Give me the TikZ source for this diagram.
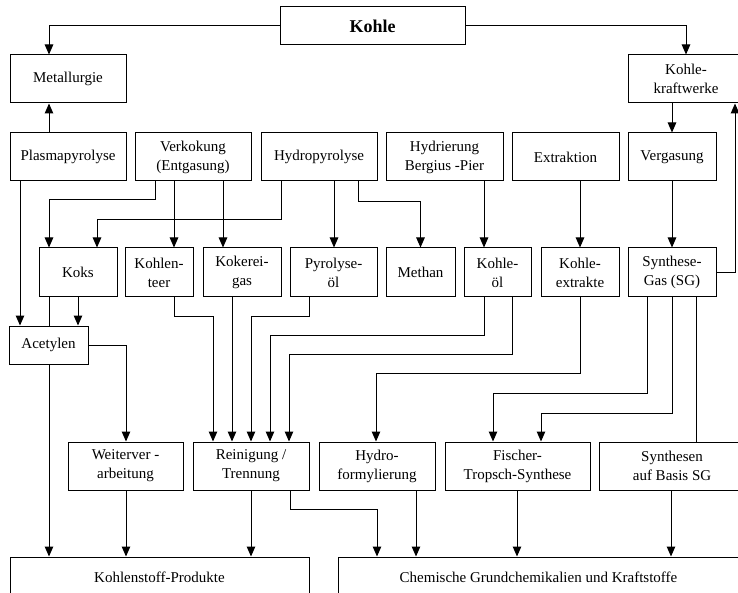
\documentclass[tikz,border=0pt]{standalone}
\usepackage{fontspec}
\setmainfont{Liberation Serif}
\usetikzlibrary{arrows.meta}
\begin{document}
\begin{tikzpicture}[x=1pt,y=-1pt,
  box/.style={draw,line width=1pt,inner sep=1pt,align=center,font=\fontsize{15}{19}\selectfont},
  line/.style={line width=1pt},
  arr/.style={line width=1pt,-{Triangle[length=10pt,width=8.5pt]}}]
\useasboundingbox (0,0) rectangle (738,593);
\clip (0,0) rectangle (738,593);
% row 0
\node[box,minimum width=185,minimum height=38,font=\fontsize{18}{20}\selectfont\bfseries] (kohle) at (372.5,26) {Kohle};
\node[box,minimum width=116,minimum height=48] (metall) at (68,79) {Metallurgie};
\node[box,minimum width=116,minimum height=48] (kkw) at (686,79) {Kohle-\\kraftwerke};
% row 1
\node[box,minimum width=116,minimum height=48] (plasma) at (68,157) {Plasmapyrolyse};
\node[box,minimum width=116,minimum height=48] (verk) at (193,157) {Verkokung\\(Entgasung)};
\node[box,minimum width=116,minimum height=48] (hpyr) at (319,157) {Hydropyrolyse};
\node[box,minimum width=117,minimum height=48] (hydr) at (444.5,157) {Hydrierung\\Bergius -Pier};
\node[box,minimum width=107,minimum height=48] (extr) at (565.5,157) {Extraktion};
\node[box,minimum width=88,minimum height=48] (verg) at (672,157) {Vergasung};
% row 2
\node[box,minimum width=78,minimum height=49] (koks) at (78,272.5) {Koks};
\node[box,minimum width=68,minimum height=49] (teer) at (159,272.5) {Kohlen-\\teer};
\node[box,minimum width=78,minimum height=49] (kgas) at (242,272.5) {Kokerei-\\gas};
\node[box,minimum width=87,minimum height=49] (poel) at (333.5,272.5) {Pyrolyse-\\öl};
\node[box,minimum width=69,minimum height=49] (methan) at (420.5,272.5) {Methan};
\node[box,minimum width=67,minimum height=49] (koel) at (497.5,272.5) {Kohle-\\öl};
\node[box,minimum width=78,minimum height=49] (kext) at (580,272.5) {Kohle-\\extrakte};
\node[box,minimum width=88,minimum height=49] (sg) at (672,272.5) {Synthese-\\Gas (SG)};
\node[box,minimum width=79,minimum height=38] (acet) at (48.5,345) {Acetylen};
% row 3
\node[box,minimum width=115,minimum height=48] (weiter) at (125.5,466) {Weiterver -\\arbeitung};
\node[box,minimum width=116,minimum height=48] (rein) at (251,466) {Reinigung /\\Trennung};
\node[box,minimum width=116,minimum height=48] (hydro) at (377,466) {Hydro-\\formylierung};
\node[box,minimum width=145,minimum height=48] (ft) at (517.5,466) {Fischer-\\Tropsch-Synthese};
\node[box,minimum width=146,minimum height=48] (synb) at (672,466) {Synthesen\\auf Basis SG};
% bottom
\node[box,minimum width=299,minimum height=40] (kprod) at (159.5,577) {Kohlenstoff-Produkte};
\node[box,minimum width=401,minimum height=40] (chem) at (538.5,577) {Chemische Grundchemikalien und Kraftstoffe};
% connectors
\draw[arr] (kohle.west) -| ([xshift=-19pt]metall.north);
\draw[arr] (kohle.east) -| (kkw.north);
\draw[arr] ([xshift=-19pt]plasma.north) -- ([xshift=-19pt]metall.south);
\draw[arr] ([xshift=-14pt]kkw.south) -- (verg.north);
\draw[arr] (sg.east) -| ([xshift=49pt]kkw.south);
\draw[arr] ([xshift=-48pt]plasma.south) -- ([xshift=-28.5pt]acet.north);
\draw[arr] ([xshift=-38pt]verk.south) -- ++(0,18) -| ([xshift=-29pt]koks.north);
\draw[arr] ([xshift=-19pt]verk.south) -- ([xshift=15pt]teer.north);
\draw[arr] ([xshift=30pt]verk.south) -- ([xshift=-19pt]kgas.north);
\draw[arr] ([xshift=-38pt]hpyr.south) -- ++(0,38) -| ([xshift=19pt]koks.north);
\draw[arr] ([xshift=15pt]hpyr.south) -- ([xshift=0.5pt]poel.north);
\draw[arr] ([xshift=39pt]hpyr.south) -- ++(0,20) -| (methan.north);
\draw[arr] ([xshift=39.5pt]hydr.south) -- ([xshift=-13.5pt]koel.north);
\draw[arr] ([xshift=14.5pt]extr.south) -- (kext.north);
\draw[arr] (verg.south) -- (sg.north);
\draw[line] ([xshift=-29pt]koks.south) -- ([xshift=0.5pt]acet.north);
\draw[arr] (koks.south) -- ([xshift=29.5pt]acet.north);
\draw[arr] (acet.east) -| ([xshift=0.5pt]weiter.north);
\draw[arr] ([xshift=0.5pt]acet.south) -- ([xshift=-110.5pt]kprod.north);
\draw[arr] ([xshift=15pt]teer.south) -- ++(0,19) -| ([xshift=-38pt]rein.north);
\draw[arr] ([xshift=-10pt]kgas.south) -- ([xshift=-19pt]rein.north);
\draw[arr] ([xshift=-24.5pt]poel.south) -- ++(0,19) -| (rein.north);
\draw[arr] ([xshift=-13.5pt]koel.south) -- ++(0,38) -| ([xshift=19pt]rein.north);
\draw[arr] ([xshift=14.5pt]koel.south) -- ++(0,57) -| ([xshift=38pt]rein.north);
\draw[arr] (kext.south) -- ++(0,76) -| ([xshift=-1pt]hydro.north);
\draw[arr] ([xshift=-25pt]sg.south) -- ++(0,96) -| ([xshift=-24.5pt]ft.north);
\draw[arr] (sg.south) -- ++(0,116) -| ([xshift=23.5pt]ft.north);
\draw[line] ([xshift=24pt]sg.south) -- ([xshift=24pt]synb.north);
\draw[arr] ([xshift=0.5pt]weiter.south) -- ([xshift=-33.5pt]kprod.north);
\draw[arr] (rein.south) -- ([xshift=91.5pt]kprod.north);
\draw[arr] ([xshift=39pt]rein.south) -- ++(0,19) -| ([xshift=-161.5pt]chem.north);
\draw[arr] ([xshift=39pt]hydro.south) -- ([xshift=-122.5pt]chem.north);
\draw[arr] ([xshift=-0.5pt]ft.south) -- ([xshift=-21.5pt]chem.north);
\draw[arr] ([xshift=-1pt]synb.south) -- ([xshift=132.5pt]chem.north);
\end{tikzpicture}
\end{document}
